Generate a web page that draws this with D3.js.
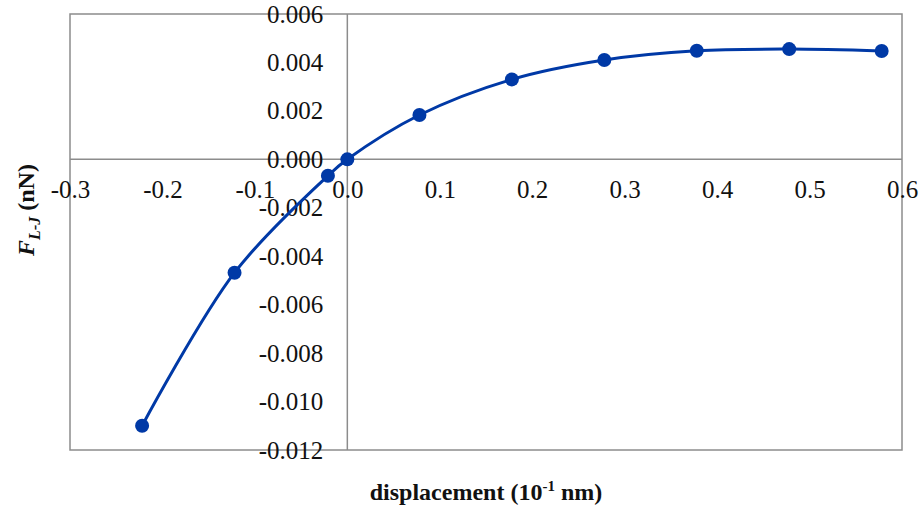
<!DOCTYPE html>
<html>
<head>
<meta charset="utf-8">
<script src="https://cdn.jsdelivr.net/npm/d3@7"></script>
</head>
<body style="margin:0">
<script>
// data
var displacement = [-0.222, -0.122, -0.021, 0, 0.078, 0.178, 0.278, 0.378, 0.478, 0.578];
var force = [-0.0110, -0.00468, -0.00068, 0, 0.00183, 0.00330, 0.00410, 0.00448, 0.00455, 0.00447];
var xTicks = [-0.3, -0.2, -0.1, 0.0, 0.1, 0.2, 0.3, 0.4, 0.5, 0.6];
var yTicks = [0.006, 0.004, 0.002, 0.000, -0.002, -0.004, -0.006, -0.008, -0.010, -0.012];

var lineColor = "#0039a6";
var gridColor = "#8c8c8c";
var serif = "'Liberation Serif', monospace";

function createGraph() {
    var svgWidth = 923, svgHeight = 512;
    var margin = {top: 14, right: 21, bottom: 62, left: 70};
    var width = svgWidth - margin.left - margin.right;
    var height = svgHeight - margin.top - margin.bottom;

    var svg = d3.select("body").append("svg")
        .attr("width", svgWidth)
        .attr("height", svgHeight);

    var g = svg.append("g")
        .attr("transform", "translate(" + margin.left + "," + margin.top + ")");

    var x = d3.scaleLinear().domain([-0.3, 0.6]).range([0, width]);
    var y = d3.scaleLinear().domain([-0.012, 0.006]).range([height, 0]);

    // plot frame
    g.append("rect")
        .attr("width", width)
        .attr("height", height)
        .attr("fill", "none")
        .attr("stroke", gridColor)
        .attr("stroke-width", 1.5);

    // zero lines
    g.append("line")
        .attr("x1", 0).attr("x2", width)
        .attr("y1", y(0)).attr("y2", y(0))
        .attr("stroke", gridColor).attr("stroke-width", 1.5);
    g.append("line")
        .attr("x1", x(0)).attr("x2", x(0))
        .attr("y1", 0).attr("y2", height)
        .attr("stroke", gridColor).attr("stroke-width", 1.5);

    var minus = function (s) { return s.replace("−", "-"); };

    // x tick labels sit under the zero line
    var xAxis = g.append("g")
        .attr("transform", "translate(0," + y(0) + ")")
        .call(d3.axisBottom(x).tickValues(xTicks).tickSize(0).tickPadding(21)
            .tickFormat(function (d) { return minus(d3.format(".1f")(d)); }));
    xAxis.select(".domain").remove();
    xAxis.selectAll("text")
        .style("font-family", serif)
        .style("font-size", "25px")
        .attr("fill", "#111");

    // y tick labels left of the zero line
    var yAxis = g.append("g")
        .attr("transform", "translate(" + x(0) + ",0)")
        .call(d3.axisLeft(y).tickValues(yTicks).tickSize(0).tickPadding(24)
            .tickFormat(function (d) { return minus(d3.format(".3f")(d)); }));
    yAxis.select(".domain").remove();
    yAxis.selectAll("text")
        .style("font-family", serif)
        .style("font-size", "25px")
        .attr("fill", "#111");

    var data = displacement.map(function (d, i) { return {x: d, y: force[i]}; });

    var line = d3.line()
        .x(function (d) { return x(d.x); })
        .y(function (d) { return y(d.y); })
        .curve(d3.curveCatmullRom.alpha(0.5));

    g.append("path")
        .datum(data)
        .attr("fill", "none")
        .attr("stroke", lineColor)
        .attr("stroke-width", 3)
        .attr("d", line);

    g.selectAll("circle.pt")
        .data(data)
        .enter().append("circle")
        .attr("class", "pt")
        .attr("cx", function (d) { return x(d.x); })
        .attr("cy", function (d) { return y(d.y); })
        .attr("r", 7)
        .attr("fill", lineColor);

    // axis titles
    svg.append("text")
        .attr("x", 486)
        .attr("y", 500)
        .attr("text-anchor", "middle")
        .style("font-family", serif)
        .style("font-size", "24px")
        .style("font-weight", "bold")
        .attr("fill", "#111")
        .call(function (t) {
            t.append("tspan").text("displacement (10");
            t.append("tspan").style("font-size", "15px").attr("dy", -9).text("-1");
            t.append("tspan").attr("dy", 9).text(" nm)");
        });

    svg.append("text")
        .attr("transform", "translate(34,210) rotate(-90)")
        .attr("text-anchor", "middle")
        .style("font-family", serif)
        .style("font-size", "24px")
        .style("font-weight", "bold")
        .attr("fill", "#111")
        .call(function (t) {
            t.append("tspan").style("font-style", "italic").text("F");
            t.append("tspan").style("font-style", "italic").style("font-size", "16px")
                .attr("dy", 6).text("L-J");
            t.append("tspan").attr("dy", -6).text(" (nN)");
        });
}

createGraph();
</script>
</body>
</html>
